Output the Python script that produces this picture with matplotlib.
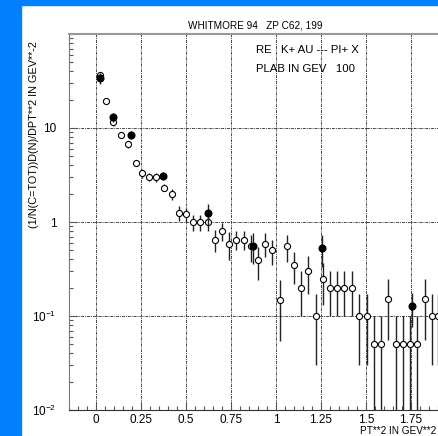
import numpy as np
import matplotlib
matplotlib.use("Agg")
import matplotlib.pyplot as plt
from matplotlib.patches import Rectangle
from matplotlib.ticker import FixedLocator, LogLocator, NullFormatter

plt.rcParams['font.family'] = ['Liberation Sans', 'DejaVu Sans']
plt.rcParams['mathtext.fontset'] = 'custom'
plt.rcParams['mathtext.rm'] = 'Liberation Sans'
plt.rcParams['mathtext.it'] = 'Liberation Sans'

# K+ Au -> pi+ X, open points
pt2_open = [0.02, 0.055, 0.095, 0.14, 0.18, 0.22, 0.255, 0.295, 0.335, 0.375,
            0.42, 0.46, 0.50, 0.54, 0.58, 0.62, 0.66, 0.70, 0.74, 0.78,
            0.82, 0.86, 0.90, 0.94, 0.98, 1.02, 1.06, 1.10, 1.14, 1.18,
            1.22, 1.26, 1.30, 1.34, 1.38, 1.42, 1.46, 1.505, 1.545, 1.585,
            1.62, 1.665, 1.705, 1.745, 1.785, 1.825, 1.865, 1.90]
y_open = [36.6, 19.4, 11.5, 8.4, 6.7, 4.27, 3.3, 3.03, 2.99, 2.32,
          1.97, 1.25, 1.21, 1.0, 1.0, 1.0, 0.65, 0.80, 0.59, 0.65,
          0.65, 0.55, 0.39, 0.59, 0.50, 0.149, 0.55, 0.35, 0.20, 0.30,
          0.10, 0.25, 0.20, 0.20, 0.20, 0.20, 0.10, 0.10, 0.05, 0.05,
          0.15, 0.05, 0.05, 0.05, 0.05, 0.15, 0.10, 0.10]
err_open = [3.0, 1.5, 1.0, 0.6, 0.5, 0.3, 0.35, 0.3, 0.3, 0.2,
            0.25, 0.23, 0.2, 0.2, 0.2, 0.2, 0.17, 0.17, 0.2, 0.15,
            0.15, 0.17, 0.15, 0.17, 0.15, 0.095, 0.17, 0.13, 0.1, 0.13,
            0.07, 0.12, 0.1, 0.1, 0.1, 0.1, 0.07, 0.07, 0.05, 0.05,
            0.095, 0.05, 0.05, 0.05, 0.05, 0.095, 0.07, 0.07]

# filled points
pt2_full = [0.022, 0.094, 0.194, 0.372, 0.624, 0.874, 1.254, 1.756]
y_full = [34.0, 13.0, 8.4, 3.09, 1.24, 0.56, 0.53, 0.127]
err_full = [4.5, 1.5, 0.8, 0.3, 0.3, 0.2, 0.2, 0.05]

W, H = 439, 436
fig = plt.figure(figsize=(W / 100, H / 100), dpi=100)

# blue frame strips
fig.patches.append(Rectangle((0, 0), 21 / W, 1, transform=fig.transFigure,
                             color='#0080ff', zorder=0))
fig.patches.append(Rectangle((0, 1 - 5 / H), 1, 5 / H, transform=fig.transFigure,
                             color='#0080ff', zorder=0))

ax = fig.add_axes([69 / W, 26 / H, (456 - 69) / W, 376 / H])
ax.set_yscale('log')
ax.set_xlim(-0.15, 2.0)
ax.set_ylim(0.01, 100)

ax.errorbar(pt2_open, y_open, yerr=err_open, fmt='o', ms=4.4, mfc='white',
            mec='black', mew=0.8, ecolor='#222222', elinewidth=1.0, capsize=0,
            zorder=3)
ax.errorbar(pt2_full, y_full, yerr=err_full, fmt='o', ms=4.8, mfc='black',
            mec='black', ecolor='#222222', elinewidth=1.0, capsize=0, zorder=4)

xt = [0, 0.25, 0.5, 0.75, 1.0, 1.25, 1.5, 1.75]
ax.xaxis.set_major_locator(FixedLocator(xt))
ax.set_xticklabels(['0', '0.25', '0.5', '0.75', '1', '1.25', '1.5', '1.75'])
ax.xaxis.set_minor_locator(FixedLocator(np.arange(-0.15, 2.0, 0.05)))
ax.yaxis.set_major_locator(FixedLocator([0.01, 0.1, 1, 10, 100]))
ax.set_yticklabels([r'$10^{-2}$', r'$10^{-1}$', '1', '10', ''])
ax.yaxis.set_minor_locator(LogLocator(base=10, subs=np.arange(2, 10)))
ax.yaxis.set_minor_formatter(NullFormatter())

ax.tick_params(which='both', direction='in', labelsize=8.5, colors='#555555',
               labelcolor='black', top=False, right=False)
ax.tick_params(axis='x', which='major', length=5, width=0.8, pad=3)
ax.tick_params(axis='y', which='major', length=5, width=0.8, pad=9)
ax.tick_params(which='minor', length=3, width=0.8)

ax.grid(True, which='major', color='#444444', linestyle=(0, (3, 1, 1, 1)),
        linewidth=0.7)

ax.spines['left'].set_color('#777777')
ax.spines['bottom'].set_color('#333333')
ax.spines['top'].set_color('#999999')
ax.spines['top'].set_linewidth(1.5)
ax.spines['right'].set_visible(False)

fig.text(255 / W, 1 - 25 / H, 'WHITMORE 94   ZP C62, 199', fontsize=7.2,
         ha='center', va='center')
fig.text(256 / W, 1 - 50 / H, 'RE   K+ AU --- PI+ X', fontsize=8.2, ha='left',
         va='center')
fig.text(256 / W, 1 - 69 / H, 'PLAB IN GEV   100', fontsize=8.2, ha='left',
         va='center')
fig.text(34 / W, 1 - 135 / H, '(1/N(C=TOT))D(N)/DPT**2 IN GEV**-2', fontsize=7.8,
         rotation=90, ha='center', va='center')
fig.text(436 / W, 1 - 431 / H, 'PT**2 IN GEV**2', fontsize=7.2, ha='right',
         va='center')

fig.savefig('out.png', dpi=100)
